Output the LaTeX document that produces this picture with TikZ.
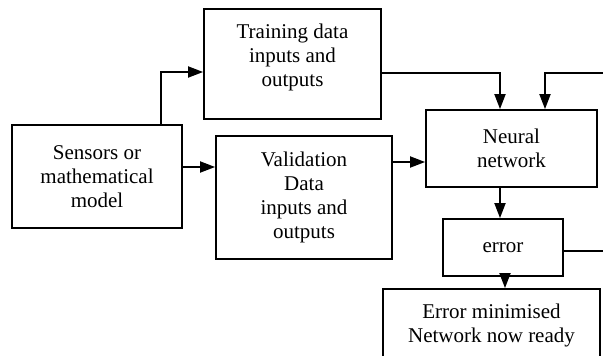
\documentclass[tikz,border=0pt]{standalone}
\usepackage{fontspec}
\setmainfont{Liberation Serif}
\usetikzlibrary{arrows.meta,calc}
\begin{document}
\begin{tikzpicture}[x=1pt,y=-1pt,line width=1.8pt,
  box/.style={draw,line width=1.8pt,rectangle,inner sep=0pt,align=center,font=\rmfamily\fontsize{21}{24}\selectfont},
  lbl/.style={inner sep=0pt,align=center,font=\rmfamily\fontsize{21}{24}\selectfont},
  arr/.style={-{Triangle[length=15pt,width=11pt]},line width=1.8pt}]
\clip (0,0) rectangle (603,356);
\node[box,minimum width=170pt,minimum height=103pt] (sensors) at (97,176.5) {Sensors or\\mathematical\\model};
\node[box,minimum width=177pt,minimum height=110pt] (train) at (292.5,64) {};
\node[lbl] (trainlbl) at (292.5,57) {Training data\\inputs and\\outputs};
\node[box,minimum width=176pt,minimum height=123pt] (valid) at (304,197.5) {Validation\\Data\\inputs and\\outputs};
\node[box,minimum width=171pt,minimum height=77pt] (nn) at (511.5,148.5) {Neural\\network};
\node[box,minimum width=120pt,minimum height=57pt] (err) at (503,247.5) {error};
\node[box,minimum width=217pt,minimum height=72pt] (final) at (491.5,325) {Error minimised\\Network now ready};
% connectors
\coordinate (s1) at ($(sensors.north east)+(-22,0)$);
\draw[arr] (s1) |- ($(train.west)+(0,8)$);
\coordinate (s2) at ($(sensors.east)+(0,-9.5)$);
\draw[arr] (s2) -- (s2 -| valid.west);
\draw[arr] ($(train.east)+(0,9)$) -| ($(nn.north)+(-11.5,0)$);
\coordinate (in1) at (603,73);
\draw[arr] (in1) -| ($(nn.north)+(33.5,0)$);
\coordinate (v1) at ($(valid.east)+(0,-35.5)$);
\draw[arr] (v1) -- (v1 -| nn.west);
\coordinate (n1) at ($(nn.south)+(-11.5,0)$);
\draw[arr] (n1) -- (n1 |- err.north);
\coordinate (e1) at ($(err.east)+(0,3.5)$);
\coordinate (out1) at (603,251);
\draw (e1) -- (out1);
\coordinate (e2) at ($(err.south)+(2,0)$);
\draw[arr] (e2) -- (e2 |- final.north);
\end{tikzpicture}
\end{document}
